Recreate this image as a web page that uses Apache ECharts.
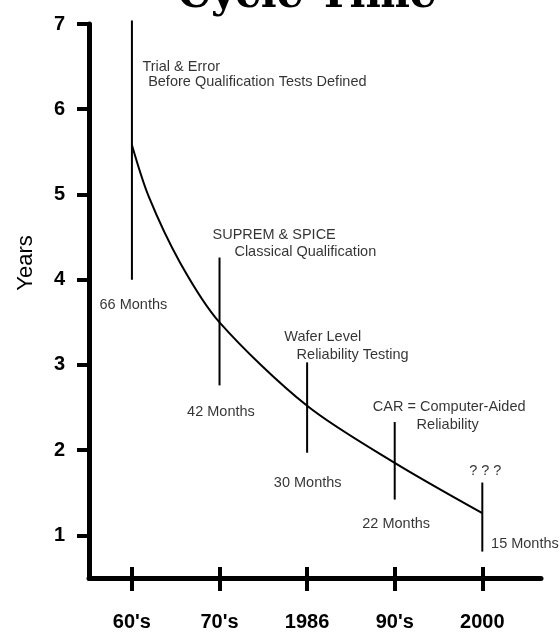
<!DOCTYPE html>
<html>
<head>
<meta charset="utf-8">
<script src="https://cdn.jsdelivr.net/npm/echarts@6/dist/echarts.min.js"></script>
<style>
html,body{margin:0;padding:0;background:#fff;}
#c{width:560px;height:634px;}
</style>
</head>
<body>
<div id="c"></div>
<script>
// Categories (x positions 0..4)
var categories = ["60's", "70's", "1986", "90's", "2000"];
// Cycle time in years at each category (66, 42, 30, 22, 15 months)
var cycleYears = [5.58, 3.5, 2.52, 1.85, 1.26];
var curveShapeX = [0.19, 0.55];
var curveShapeY = [4.98, 4.2];
// vertical marker lines at each category: top and bottom (years)
var markerTop = [7.04, 4.26, 3.03, 2.33, 1.62];
var markerBottom = [4.0, 2.76, 1.97, 1.42, 0.81];
// y tick labels
var yTicks = [1, 2, 3, 4, 5, 6, 7];
// annotation texts with anchor (x category units, y years)
var noteText = ["Trial & Error", "Before Qualification Tests Defined", "66 Months",
  "SUPREM & SPICE", "Classical Qualification", "42 Months",
  "Wafer Level", "Reliability Testing", "30 Months",
  "CAR = Computer-Aided", "Reliability", "22 Months",
  "? ? ?", "15 Months"];
var noteX = [0.12, 0.185, -0.37, 0.92, 1.17, 0.63, 1.74, 1.88, 1.62, 2.75, 3.25, 2.63, 3.85, 4.10];
var noteY = [6.49, 6.32, 3.70, 4.53, 4.33, 2.45, 3.33, 3.12, 1.62, 2.51, 2.30, 1.13, 1.76, 0.90];

var curve = [];
for (var i = 0; i < cycleYears.length; i++) {
  curve.push([i, cycleYears[i]]);
  if (i === 0) {
    for (var k = 0; k < curveShapeX.length; k++) curve.push([curveShapeX[k], curveShapeY[k]]);
  }
}
var markers = categories.map(function (c, i) { return [i, markerTop[i], markerBottom[i]]; });
var notes = noteText.map(function (t, i) { return { value: [noteX[i], noteY[i]], name: t }; });
var catIdx = categories.map(function (c, i) { return i; });

var chart = echarts.init(document.getElementById('c'), null, { renderer: 'canvas' });
var sans = "'Liberation Sans', Arial, Helvetica, sans-serif";
chart.setOption({
  backgroundColor: '#fff',
  animation: false,
  title: {
    text: 'Cycle Time',
    left: 302, textAlign: 'center',
    top: -30,
    textStyle: { fontFamily: "'DejaVu Serif', serif", fontWeight: 'bold', fontSize: 42, color: '#000' }
  },
  grid: { left: 89, right: 19, top: 24, bottom: 56 },
  xAxis: [{
    type: 'value', min: -0.49, max: 4.67,
    axisLine: { show: true, onZero: false, lineStyle: { color: '#000', width: 5 } },
    axisTick: { show: true, customValues: catIdx, length: 13, lineStyle: { color: '#000', width: 4 } },
    axisLabel: {
      show: true, customValues: catIdx, margin: 34,
      formatter: function (v) { return categories[Math.round(v)]; },
      fontFamily: sans, fontWeight: 'bold', fontSize: 20, color: '#000'
    },
    splitLine: { show: false }
  }, {
    type: 'value', min: -0.49, max: 4.67, position: 'bottom', offset: 0,
    axisLine: { show: false },
    axisTick: { show: true, inside: true, customValues: catIdx, length: 11, lineStyle: { color: '#000', width: 4 } },
    axisLabel: { show: false },
    splitLine: { show: false }
  }],
  yAxis: {
    type: 'value', min: 0.5, max: 7,
    name: 'Years', nameLocation: 'middle', nameRotate: 90, nameGap: 52,
    nameTextStyle: { fontFamily: sans, fontSize: 22, color: '#000', padding: [0, 0, 0, 76] },
    axisLine: { show: true, onZero: false, lineStyle: { color: '#000', width: 5 } },
    axisTick: { show: true, customValues: yTicks, length: 12, lineStyle: { color: '#000', width: 4 } },
    axisLabel: { show: true, customValues: yTicks, margin: 24, fontFamily: sans, fontWeight: 'bold', fontSize: 20, color: '#000' },
    splitLine: { show: false }
  },
  series: [{
    type: 'line', xAxisIndex: 0, data: curve, smooth: 0.3, showSymbol: false, symbol: 'none',
    lineStyle: { color: '#000', width: 2 }
  }, {
    type: 'custom', xAxisIndex: 0, data: markers,
    renderItem: function (params, api) {
      var p1 = api.coord([api.value(0), api.value(1)]);
      var p2 = api.coord([api.value(0), api.value(2)]);
      return { type: 'line', shape: { x1: p1[0], y1: p1[1], x2: p2[0], y2: p2[1] }, style: { stroke: '#000', lineWidth: 2 } };
    }
  }, {
    type: 'scatter', xAxisIndex: 0, data: notes, symbolSize: 0, silent: true,
    label: {
      show: true, position: [0, 0], align: 'left', verticalAlign: 'middle',
      formatter: function (p) { return p.name; },
      fontFamily: sans, fontSize: 14.5, color: '#000'
    }
  }]
});
</script>
</body>
</html>
